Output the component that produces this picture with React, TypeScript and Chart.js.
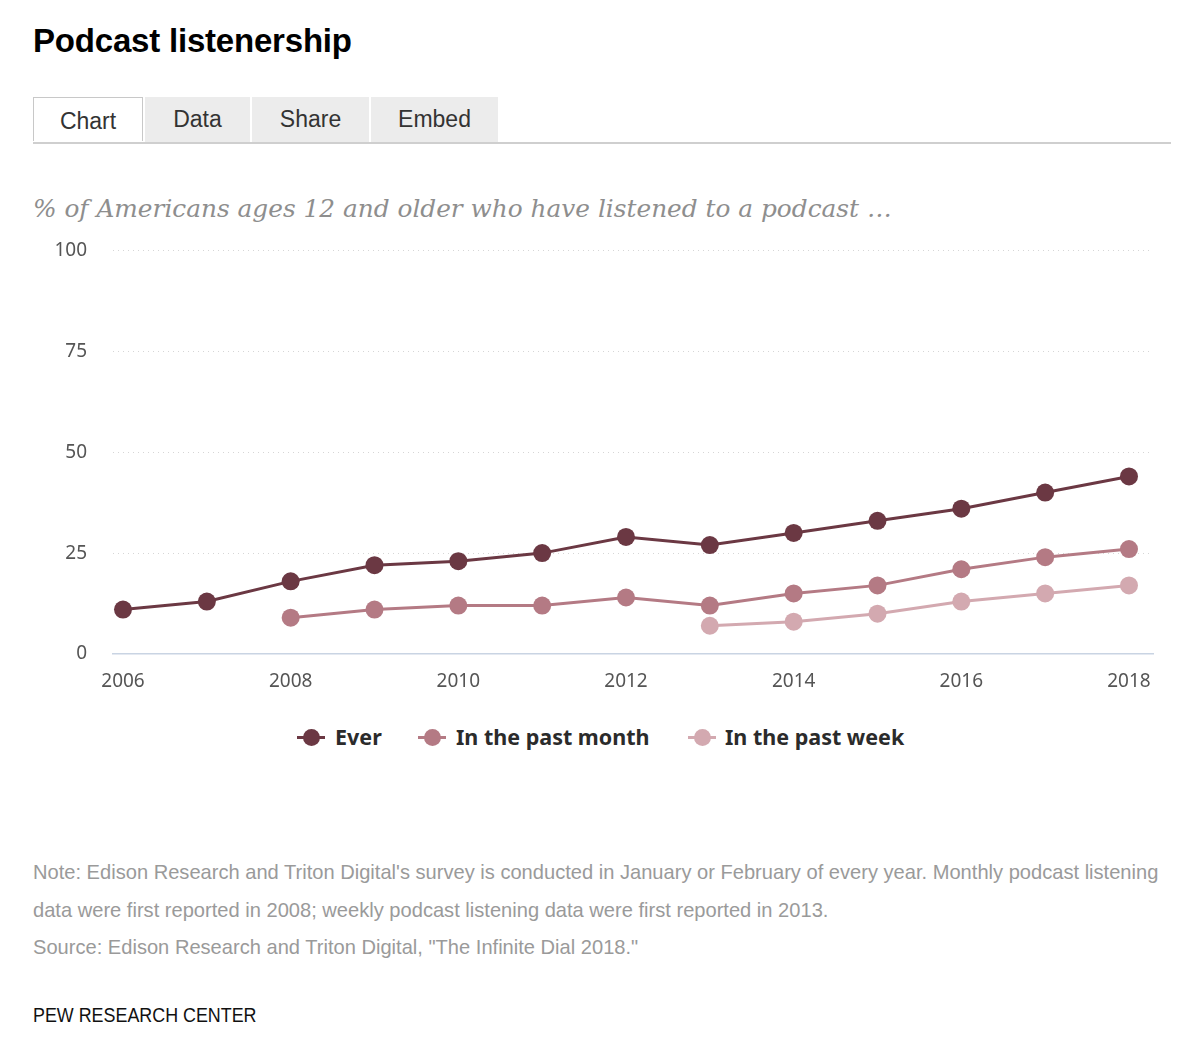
import React, { useEffect, useRef } from "react";
import { Chart, registerables } from "chart.js";

Chart.register(...registerables);

const years = [2006, 2007, 2008, 2009, 2010, 2011, 2012, 2013, 2014, 2015, 2016, 2017, 2018];
const everValues = [11, 13, 18, 22, 23, 25, 29, 27, 30, 33, 36, 40, 44];
const monthValues = [null, null, 9, 11, 12, 12, 14, 12, 15, 17, 21, 24, 26];
const weekValues = [null, null, null, null, null, null, null, 7, 8, 10, 13, 15, 17];
const xTickYears = [2006, 2008, 2010, 2012, 2014, 2016, 2018];
const yTickValues = [0, 25, 50, 75, 100];

const seriesNames = ["Ever", "In the past month", "In the past week"];
const seriesColors = ["#6b3843", "#b47a84", "#d3a9b0"];

const tabs = ["Chart", "Data", "Share", "Embed"];

const abs = (l: number, t: number, extra: React.CSSProperties = {}): React.CSSProperties => ({
  position: "absolute",
  left: l,
  top: t,
  ...extra,
});

export default function App() {
  const ref = useRef<HTMLCanvasElement | null>(null);

  useEffect(() => {
    if (!ref.current) return;
    const mk = (vals: (number | null)[], i: number) => ({
      label: seriesNames[i],
      data: years.map((y, k) => ({ x: y, y: vals[k] })),
      borderColor: seriesColors[i],
      backgroundColor: seriesColors[i],
      pointBackgroundColor: seriesColors[i],
      pointBorderColor: seriesColors[i],
      borderWidth: 3,
      pointRadius: 9,
      pointBorderWidth: 0,
      spanGaps: false,
      tension: 0,
    });
    const chart = new Chart(ref.current, {
      type: "line",
      data: {
        datasets: [mk(weekValues, 2), mk(monthValues, 1), mk(everValues, 0)],
      },
      options: {
        animation: false,
        responsive: false,
        maintainAspectRatio: false,
        layout: { padding: { top: 0, right: 17, left: 0, bottom: 0 } },
        plugins: { legend: { display: false }, tooltip: { enabled: false } },
        scales: {
          x: {
            type: "linear",
            min: 2006 - 10 / 83.8,
            max: 2018 + 24 / 83.8,
            afterBuildTicks: (s: any) => {
              s.ticks = xTickYears.map((v) => ({ value: v }));
            },
            afterFit: (s: any) => {
              s.height = 56;
            },
            grid: { display: false, drawTicks: false },
            border: { display: true, color: "#c9d4e3", width: 1.5 },
            ticks: {
              padding: 16,
              color: "#555",
              font: { family: "Noto Sans", size: 19 },
              maxRotation: 0,
              callback: (v: any) => String(v),
            },
          },
          y: {
            min: 0,
            max: 100,
            afterBuildTicks: (s: any) => {
              s.ticks = yTickValues.map((v) => ({ value: v }));
            },
            afterFit: (s: any) => {
              s.width = 83;
            },
            grid: {
              drawTicks: false,
              color: (c: any) => (c.tick && c.tick.value === 0 ? "rgba(0,0,0,0)" : "#d6d6d6"),
              lineWidth: 1,
            },
            border: { display: false, dash: [1, 4] },
            ticks: {
              padding: 26,
              color: "#555",
              font: { family: "Noto Sans", size: 19 },
            },
          },
        },
      },
    });
    return () => chart.destroy();
  }, []);

  const tabLefts = [33, 145, 252, 371];
  const tabWidths = [112, 107, 119, 129];

  const legendItems = [
    { marker: 297, text: 335 },
    { marker: 418, text: 456 },
    { marker: 688, text: 725 },
  ];

  return (
    <div style={{ position: "absolute", left: 0, top: 0, width: 1200, height: 1040, background: "#fff", overflow: "hidden" }}>
      <div
        style={abs(33, 21, {
          fontFamily: "Liberation Sans, Arial, sans-serif",
          fontWeight: 700,
          fontSize: 33,
          color: "#000",
          lineHeight: "40px",
          letterSpacing: -0.2,
        })}
      >
        Podcast listenership
      </div>
      {tabs.map((t, i) => (
        <div
          key={t}
          style={abs(tabLefts[i], 97, {
            width: tabWidths[i] - 2,
            height: i === 0 ? 44 : 45,
            background: i === 0 ? "#fff" : "#ececec",
            border: i === 0 ? "1px solid #c8c8c8" : "none",
            borderBottom: "none",
            boxSizing: "border-box",
            fontFamily: "Liberation Sans, Arial, sans-serif",
            fontSize: 23,
            color: "#333",
            display: "flex",
            alignItems: "center",
            justifyContent: "center",
            paddingTop: i === 0 ? 4 : 0,
          })}
        >
          {t}
        </div>
      ))}
      <div style={abs(33, 142, { width: 1138, height: 2, background: "#cfcfcf" })} />
      <div
        style={abs(33, 190, {
          fontFamily: "DejaVu Serif, serif",
          fontStyle: "italic",
          fontSize: 24.8,
          color: "#8e8e8e",
          lineHeight: "38px",
          whiteSpace: "nowrap",
        })}
      >
        % of Americans ages 12 and older who have listened to a podcast …
      </div>
      <canvas ref={ref} width={1140} height={497} style={abs(30, 213, { width: 1140, height: 497 })} />
      {legendItems.map((it, i) => (
        <React.Fragment key={i}>
          <div style={abs(it.marker, 735.5, { width: 28, height: 3, background: seriesColors[i] })} />
          <div
            style={abs(it.marker + 5.5, 728.5, {
              width: 17,
              height: 17,
              borderRadius: "50%",
              background: seriesColors[i],
            })}
          />
          <div
            style={abs(it.text, 722, {
              fontFamily: "Noto Sans, sans-serif",
              fontWeight: 700,
              fontSize: 21.5,
              color: "#2b2b2b",
              lineHeight: "30px",
              whiteSpace: "nowrap",
            })}
          >
            {seriesNames[i]}
          </div>
        </React.Fragment>
      ))}
      <div
        style={abs(33, 853, {
          fontFamily: "Liberation Sans, sans-serif",
          fontSize: 21,
          color: "#9a9a9a",
          lineHeight: "37.5px",
          width: 1250,
          transform: "scaleX(0.957)",
          transformOrigin: "left top",
        })}
      >
        <div style={{ whiteSpace: "nowrap" }}>
          Note: Edison Research and Triton Digital's survey is conducted in January or February of every year. Monthly podcast listening
        </div>
        <div style={{ whiteSpace: "nowrap" }}>data were first reported in 2008; weekly podcast listening data were first reported in 2013.</div>
        <div style={{ whiteSpace: "nowrap" }}>Source: Edison Research and Triton Digital, "The Infinite Dial 2018."</div>
      </div>
      <div
        style={abs(33, 1002, {
          fontFamily: "Liberation Sans, sans-serif",
          fontSize: 20,
          color: "#111",
          lineHeight: "26px",
          whiteSpace: "nowrap",
          transform: "scaleX(0.894)",
          transformOrigin: "left top",
        })}
      >
        PEW RESEARCH CENTER
      </div>
    </div>
  );
}
